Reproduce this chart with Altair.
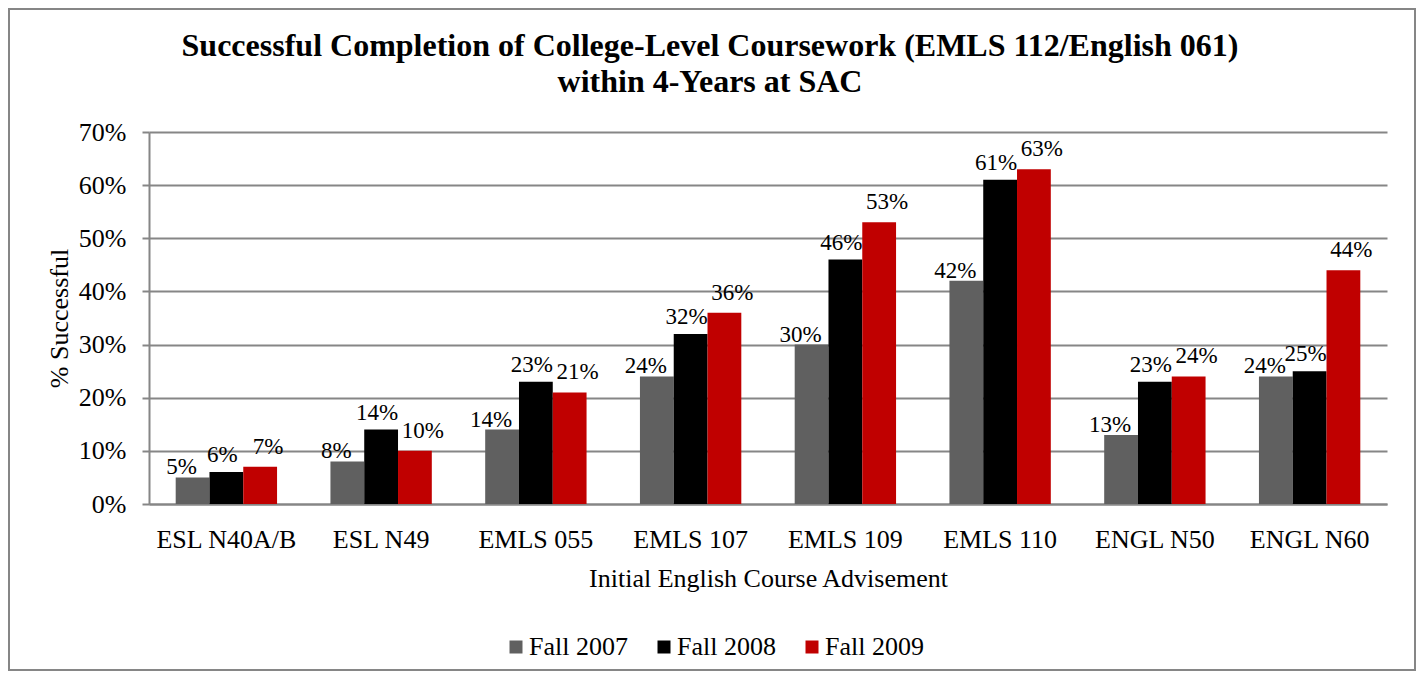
import altair as alt
import pandas as pd

# ---- data ----
courses = ["ESL N40A/B", "ESL N49", "EMLS 055", "EMLS 107",
           "EMLS 109", "EMLS 110", "ENGL N50", "ENGL N60"]
terms = ["Fall 2007", "Fall 2008", "Fall 2009"]
fall_2007 = [5, 8, 14, 24, 30, 42, 13, 24]
fall_2008 = [6, 14, 23, 32, 46, 61, 23, 25]
fall_2009 = [7, 10, 21, 36, 53, 63, 24, 44]
y_ticks = [0, 10, 20, 30, 40, 50, 60, 70]

title_lines = ["Successful Completion of College-Level Coursework (EMLS 112/English 061)",
               "within 4-Years at SAC"]
x_title = "Initial English Course Advisement"
y_title = "% Successful"

rows = []
for term, vals in zip(terms, [fall_2007, fall_2008, fall_2009]):
    for c, v in zip(courses, vals):
        rows.append({"course": c, "term": term, "value": v / 100})
df = pd.DataFrame(rows)

# ---- styling ----
colors = ["#606060", "#000000", "#C00000"]
FONT = "Liberation Serif"
GRID = "#868686"
W, H = 1238, 372

x_axis = alt.Axis(
    title=x_title, labelAngle=0, labelFontSize=26, labelColor="black",
    labelPadding=43, labelBaseline="alphabetic", ticks=False, tickSize=0,
    domainColor=GRID, domainWidth=2, grid=False,
    titleFontSize=26, titleFontWeight="normal", titleColor="black",
    titleX=W / 2, titleY=82, titleBaseline="alphabetic", titleAlign="center",
)
y_axis = alt.Axis(
    values=[v / 100 for v in y_ticks], format=".0%", title=y_title,
    labelFontSize=26, labelColor="black", labelPadding=16,
    tickSize=7, tickColor=GRID, tickWidth=2,
    domainColor=GRID, domainWidth=2, gridColor=GRID, gridWidth=2,
    titleFontSize=26, titleFontWeight="normal", titleColor="black",
    titleX=-82, titleY=H / 2, titleAngle=270, titleBaseline="alphabetic",
    titleAlign="center",
)

base = alt.Chart(df).encode(
    x=alt.X("course:N", sort=courses,
            scale=alt.Scale(paddingInner=0.345, paddingOuter=0.1725), axis=x_axis),
    xOffset=alt.XOffset("term:N", sort=terms,
                        scale=alt.Scale(domain=terms, paddingInner=0, paddingOuter=0)),
    y=alt.Y("value:Q", scale=alt.Scale(domain=[0, 0.7], nice=False), axis=y_axis),
)

bars = base.mark_bar().encode(
    color=alt.Color(
        "term:N",
        scale=alt.Scale(domain=terms, range=colors),
        legend=alt.Legend(
            title=None, orient="none", legendX=354, legendY=502,
            direction="horizontal", symbolType="square", symbolSize=169,
            symbolStrokeWidth=0, labelFontSize=26, labelColor="black",
            labelOffset=0, columnPadding=23, labelFont=FONT,
        ),
    )
)

label_shift = {"Fall 2007": (-11, -3), "Fall 2008": (-4, -10), "Fall 2009": (8, -13)}
labels = [
    base.transform_filter(alt.datum.term == t)
    .mark_text(font=FONT, fontSize=23, baseline="alphabetic", align="center",
               dx=label_shift[t][0], dy=label_shift[t][1], color="black")
    .encode(text=alt.Text("value:Q", format=".0%"))
    for t in terms
]

border = alt.Chart(pd.DataFrame({"frame": [0]})).mark_rect(
    fill="transparent", stroke=GRID, strokeWidth=2
).encode(
    x=alt.value(-140), x2=alt.value(1266), y=alt.value(-123), y2=alt.value(538)
)

chart = alt.layer(border, bars, *labels).properties(
    width=W,
    height=H,
    title=alt.Title(
        text=title_lines, font=FONT, fontSize=32, fontWeight="bold",
        color="black", anchor="middle", frame="group", dx=-58,
        lineHeight=36, baseline="bottom", offset=-123,
    ),
    padding={"left": 141, "top": 124, "right": 30, "bottom": 169},
    autosize=alt.AutoSizeParams(type="none"),
).configure_view(stroke="transparent").configure_axis(
    labelFont=FONT, titleFont=FONT
).configure_legend(labelFont=FONT).configure_title(font=FONT)

chart.save("out.html", embed_options={"renderer": "svg", "actions": False})
